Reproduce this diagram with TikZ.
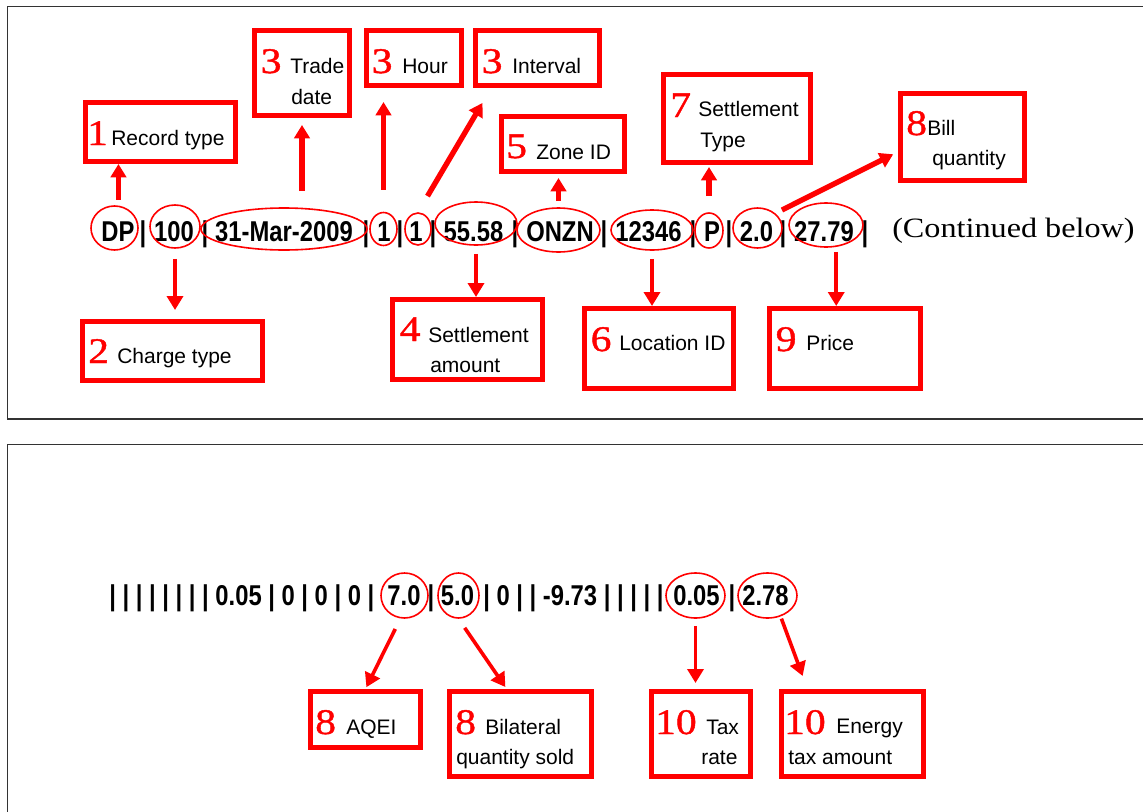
\documentclass[tikz,border=0pt]{standalone}
\usepackage{fontspec}
\setmainfont{Liberation Sans}
\newfontfamily\numfont[FakeStretch=1.15,FakeBold=1.2]{Liberation Serif}
\newfontfamily\notefont[FakeStretch=1.15]{Liberation Serif}
\newfontfamily\datafont[FakeStretch=0.83]{Liberation Sans}
\usetikzlibrary{shapes.geometric,arrows.meta}

\begin{document}
\begin{tikzpicture}[x=0.75pt,y=0.75pt,yscale=-1,xscale=1,
  frame/.style={draw=black!80, line width=0.9pt},
  box/.style 2 args={draw=red, line width=3.5pt, inner sep=0pt, minimum width=#1*0.75pt-3.5pt, minimum height=#2*0.75pt-3.5pt},
  ring/.style 2 args={ellipse, draw=red, line width=1.2pt, inner sep=0pt, minimum width=#1*0.75pt, minimum height=#2*0.75pt},
  val/.style={anchor=base, inner sep=0pt, font=\datafont\bfseries\fontsize{21.5}{24}\selectfont},
  run/.style={val, anchor=base west},
  lbl/.style={anchor=base west, inner sep=0pt, font=\fontsize{15.75}{18}\selectfont},
  num/.style={anchor=base west, inner sep=0pt, text=red, font=\numfont\fontsize{27}{30}\selectfont},
  upar/.style={draw=red, line width=4pt, -{Triangle[length=10pt,width=11.5pt]}},
  downar/.style={draw=red, line width=2.7pt, -{Triangle[length=10.5pt,width=12pt]}}]
\useasboundingbox (0,0) rectangle (1143,811);
\clip (0,0) rectangle (1143,811);

% panels
\draw[frame] (1160,6.5) -- (7.5,6.5) -- (7.5,419) -- (1160,419);
\draw[frame] (1160,444.5) -- (7.5,444.5) -- (7.5,830);

% record, first part
\foreach \x [count=\i] in {143,205,366,400,433,515,604,693,729,783,865}
  \node[val] (bar\i) at (\x,241) {|};
\node[val] (dp-val) at (118,241) {DP};
\node[val] (chg-val) at (174,241) {100};
\node[val] (day-val) at (284,241) {31-Mar-2009};
\node[val] (hr-val) at (384,241) {1};
\node[val] (ivl-val) at (416,241) {1};
\node[val] (amt-val) at (473.5,241) {55.58};
\node[val] (zn-val) at (560,241) {ONZN};
\node[val] (loc-val) at (648.5,241) {12346};
\node[val] (st-val) at (712,241) {P};
\node[val] (qty-val) at (756.5,241) {2.0};
\node[val] (pr-val) at (824,241) {27.79};
\node[anchor=base west, inner sep=0pt, font=\notefont\fontsize{21}{24}\selectfont] (cont) at (892,237) {(Continued below)};

\node[ring={47}{44}] (dp) at (114.5,228) {};
\node[ring={50}{43}] (chg) at (175,226.5) {};
\node[ring={166}{42}] (day) at (284,229) {};
\node[ring={27}{33}] (hr) at (383.5,229) {};
\node[ring={26}{32}] (ivl) at (418,229) {};
\node[ring={82}{43}] (amt) at (476,223.5) {};
\node[ring={83}{44}] (zn) at (558.5,230) {};
\node[ring={82}{40}] (loc) at (652,230) {};
\node[ring={28}{35}] (st) at (709,230.5) {};
\node[ring={49}{40}] (qty) at (757.5,228) {};
\node[ring={74}{44}] (pr) at (826,225) {};

\node[box={155}{64}] (dp-box) at (160.5,132) {};
\node[box={185}{64}] (chg-box) at (172.5,351) {};
\node[box={100}{90}] (day-box) at (302,73) {};
\node[box={100}{60}] (hr-box) at (414,58) {};
\node[box={129}{60}] (ivl-box) at (537.5,58) {};
\node[box={155}{85}] (amt-box) at (467.5,339.5) {};
\node[box={128}{60}] (zn-box) at (563,144) {};
\node[box={154}{85}] (loc-box) at (659,348.5) {};
\node[box={152}{93}] (st-box) at (737,118.5) {};
\node[box={129}{92}] (qty-box) at (962.5,137) {};
\node[box={156}{85}] (pr-box) at (845,348.5) {};

\node[num] (dp-num) at (87,145) {1};
\node[lbl] (dp-lbl) at (111,145) {Record type};
\node[num] (chg-num) at (88,363) {2};
\node[lbl] (chg-lbl) at (117,363) {Charge type};
\node[num] (day-num) at (260.5,73) {3};
\node[lbl] (day-lbl) at (290,73) {Trade};
\node[lbl] (day-lbl2) at (291,104) {date};
\node[num] (hr-num) at (371.5,73) {3};
\node[lbl] (hr-lbl) at (402,73) {Hour};
\node[num] (ivl-num) at (481.5,73) {3};
\node[lbl] (ivl-lbl) at (512,73) {Interval};
\node[num] (amt-num) at (399.5,341) {4};
\node[lbl] (amt-lbl) at (428,342) {Settlement};
\node[lbl] (amt-lbl2) at (430,372) {amount};
\node[num] (zn-num) at (506,158) {5};
\node[lbl] (zn-lbl) at (536,159) {Zone ID};
\node[num] (loc-num) at (590.5,351) {6};
\node[lbl] (loc-lbl) at (619,350) {Location ID};
\node[num] (st-num) at (670,117) {7};
\node[lbl] (st-lbl) at (698,116) {Settlement};
\node[lbl] (st-lbl2) at (700,147) {Type};
\node[num] (qty-num) at (906,135) {8};
\node[lbl] (qty-lbl) at (927,135) {Bill};
\node[lbl] (qty-lbl2) at (932,165) {quantity};
\node[num] (pr-num) at (775.5,351) {9};
\node[lbl] (pr-lbl) at (806,350) {Price};

\draw[upar, shorten <=4.5pt] (dp.80) -- (dp.80 |- dp-box.south);
\draw[downar, shorten <=7.5pt, shorten >=6.75pt] (chg.south) -- (chg.south |- chg-box.north);
\draw[upar, shorten <=12pt, shorten >=5.25pt] (day-box.south |- day.north) -- (day-box.south);
\draw[upar, shorten <=16.5pt, shorten >=10.5pt] (hr.north) -- (hr.north |- hr-box.south);
\draw[upar, shorten <=14pt, shorten >=13pt] (ivl.north) -- (ivl-box.-147);
\draw[downar, shorten <=6pt] (amt.south) -- (amt.south |- amt-box.north);
\draw[upar, shorten <=4.5pt, shorten >=3pt] (zn.north) -- (zn.north |- zn-box.south);
\draw[downar, shorten <=6pt] (loc.south) -- (loc.south |- loc-box.north);
\draw[upar, shorten <=12pt, shorten >=1.5pt] (st.north) -- (st.north |- st-box.south);
\draw[upar, shorten <=5.5pt, shorten >=4pt] (qty.north east) -- (qty-box.-167);
\draw[downar, shorten <=3.75pt] (pr.-65) -- (pr.-65 |- pr-box.north);

% record, continued
\node[run] (run1) at (109,605) {| | | | | | | | 0.05 | 0 | 0 | 0 |};
\node[val] (aqei-val) at (404,605) {7.0};
\node[val] (bar12) at (431,605) {|};
\node[val] (bil-val) at (457.5,605) {5.0};
\node[run] (run2) at (483,605) {| 0 | | -9.73 | | | | |};
\node[val] (rate-val) at (696.5,605) {0.05};
\node[val] (bar13) at (732,605) {|};
\node[val] (etx-val) at (765.5,605) {2.78};

\node[ring={47}{45}] (aqei) at (404.5,595.5) {};
\node[ring={41}{45}] (bil) at (458.5,595.5) {};
\node[ring={59}{45}] (rate) at (695.5,595.5) {};
\node[ring={59}{45}] (etx) at (767.5,595.5) {};

\node[box={115}{61}] (aqei-box) at (365.5,719.5) {};
\node[box={147}{90}] (bil-box) at (520.5,734) {};
\node[box={104}{90}] (rate-box) at (701,734) {};
\node[box={147}{90}] (etx-box) at (852.5,734) {};

\node[num] (aqei-num) at (315,734) {8};
\node[lbl] (aqei-lbl) at (346,734) {AQEI};
\node[num] (bil-num) at (455,734) {8};
\node[lbl] (bil-lbl) at (485,734) {Bilateral};
\node[lbl] (bil-lbl2) at (456,764) {quantity sold};
\node[num] (rate-num) at (655,734) {10};
\node[lbl] (rate-lbl) at (706,734) {Tax};
\node[lbl] (rate-lbl2) at (701,764) {rate};
\node[num] (etx-num) at (784,734) {10};
\node[lbl] (etx-lbl) at (836,733) {Energy};
\node[lbl] (etx-lbl2) at (788,764) {tax amount};

\draw[downar, shorten <=8.8pt, shorten >=1.5pt] (aqei.-100) -- (aqei-box.north);
\draw[downar, shorten <=8.2pt, shorten >=1.8pt] (bil.south) -- (bil-box.107);
\draw[downar, shorten <=5.25pt, shorten >=4.5pt] (rate.south) -- (rate.south |- rate-box.north);
\draw[downar, shorten <=1.7pt, shorten >=10.4pt] (etx.-58) -- (etx-box.135);
\end{tikzpicture}
\end{document}
